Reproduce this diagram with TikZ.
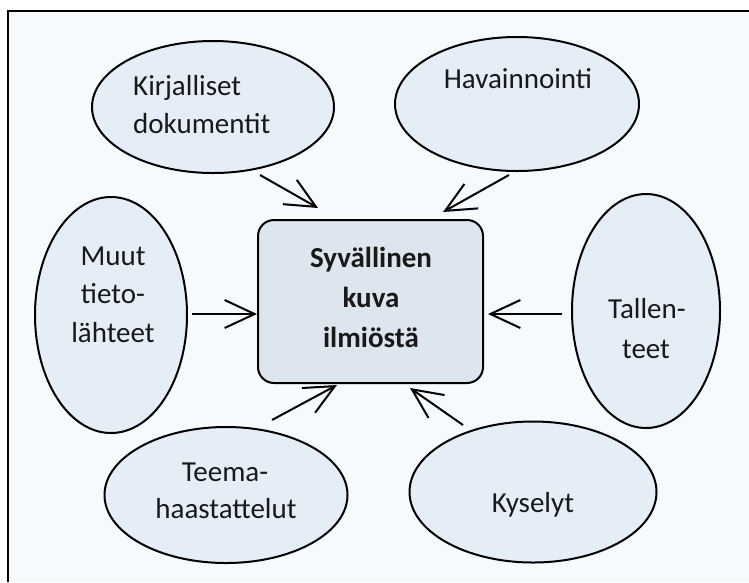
\documentclass[tikz,border=0pt]{standalone}
\usepackage{fontspec}
\setmainfont{Carlito}
\usetikzlibrary{arrows.meta,shapes.geometric}
\definecolor{bgc}{RGB}{246,250,252}
\definecolor{ellc}{RGB}{229,238,247}
\definecolor{boxc}{RGB}{221,230,238}
\tikzset{
  oval/.style={ellipse, draw=black, line width=2pt, fill=ellc, inner sep=0pt},
  cbox/.style={draw=black, line width=2pt, fill=boxc, rounded corners=16pt, inner sep=0pt},
  lbl/.style={inner sep=0pt, font=\fontsize{29}{39}\selectfont, text=black!90},
  blbl/.style={lbl, font=\fontsize{29}{39}\selectfont\bfseries},
  arr/.style={line width=2pt, -{Straight Barb[length=30pt,width=28pt,line width=2pt]}}
}
\begin{document}
\begin{tikzpicture}[x=1pt,y=-1pt]
\useasboundingbox (0,0) rectangle (749,582);
\fill[white] (0,0) rectangle (749,582);
\fill[bgc] (8,11) rectangle (749,582);
\draw[line width=2pt] (8,582) -- (8,11) -- (749,11);

% shapes
\node[oval, minimum width=242pt, minimum height=132pt] (kir) at (213,107) {};
\node[oval, minimum width=244pt, minimum height=134pt] (hav) at (517,104) {};
\node[oval, minimum width=152pt, minimum height=236pt] (muu) at (111,315) {};
\node[oval, minimum width=148pt, minimum height=234pt] (tal) at (646,311) {};
\node[oval, minimum width=243pt, minimum height=136pt] (tee) at (226,495) {};
\node[oval, minimum width=247pt, minimum height=141pt] (kys) at (533,492) {};
\node[cbox, minimum width=225pt, minimum height=163pt] (box) at (370.5,301.5) {};

% texts
\node[lbl, anchor=base west] (kir1) at (133,95) {Kirjalliset};
\node[lbl, anchor=base west] (kir2) at (133,133) {dokumentit};
\node[lbl, anchor=base] (hav1) at (518,88) {Havainnointi};
\node[lbl, anchor=base] (muu1) at (113,265) {Muut};
\node[lbl, anchor=base] (muu2) at (113,303) {tieto-};
\node[lbl, anchor=base] (muu3) at (113,342) {lähteet};
\node[lbl, anchor=base] (tal1) at (647,318) {Tallen-};
\node[lbl, anchor=base] (tal2) at (646,358) {teet};
\node[lbl, anchor=base] (tee1) at (225,481) {Teema-};
\node[lbl, anchor=base] (tee2) at (226,518) {haastattelut};
\node[lbl, anchor=base] (kys1) at (533,512) {Kyselyt};
\node[blbl, anchor=base] (box1) at (371,267) {Syvällinen};
\node[blbl, anchor=base] (box2) at (371,307) {kuva};
\node[blbl, anchor=base] (box3) at (371,347) {ilmiöstä};

% connector ends
\coordinate (kirA) at (260,175); \coordinate (kirB) at (318,208);
\coordinate (havA) at (509,175); \coordinate (havB) at (443,212);
\coordinate (muuA) at (192,314); \coordinate (muuB) at (257,314);
\coordinate (talA) at (562,314); \coordinate (talB) at (488,314);
\coordinate (teeA) at (272,420); \coordinate (teeB) at (337,385);
\coordinate (kysA) at (463,425); \coordinate (kysB) at (410,388);

\draw[arr] (kirA) -- (kirB);
\draw[arr] (havA) -- (havB);
\draw[arr] (muuA) -- (muuB);
\draw[arr] (talA) -- (talB);
\draw[arr] (teeA) -- (teeB);
\draw[arr] (kysA) -- (kysB);
\end{tikzpicture}
\end{document}
